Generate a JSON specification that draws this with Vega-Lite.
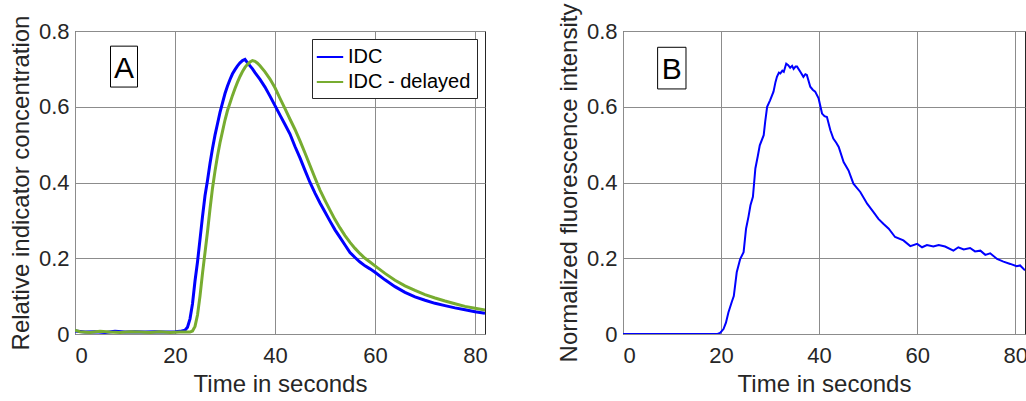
{
  "$schema": "https://vega.github.io/schema/vega-lite/v6.json",
  "padding": {"left": 8, "top": 2, "right": 0, "bottom": 0},
  "background": "white",
  "config": {
    "font": "Liberation Sans",
    "view": {"stroke": "#262626", "strokeWidth": 1},
    "axis": {
      "domain": false, "ticks": false, "grid": true, "gridColor": "#8c8c8c", "gridWidth": 1,
      "labelFont": "Liberation Sans", "labelFontSize": 22, "labelColor": "#262626",
      "titleFont": "Liberation Sans", "titleFontSize": 24, "titleFontWeight": "normal", "titleColor": "#262626"
    },
    "legend": {
      "padding": 6, "rowPadding": 3,
      "strokeColor": "#262626", "fillColor": "white",
      "labelFont": "Liberation Sans", "labelFontSize": 20, "labelColor": "#000000", "labelOffset": 6,
      "symbolType": "M-1.2,0H1.2", "symbolSize": 484, "symbolStrokeWidth": 2
    }
  },
  "resolve": {"legend": {"color": "independent"}, "scale": {"color": "independent"}},
  "datasets": {
    "a": [
      {"t": 0, "v": 0.008, "s": "IDC"}, {"t": 2, "v": 0.005, "s": "IDC"}, {"t": 4, "v": 0.006, "s": "IDC"}, {"t": 6, "v": 0.004, "s": "IDC"},
      {"t": 8, "v": 0.007, "s": "IDC"}, {"t": 10, "v": 0.005, "s": "IDC"}, {"t": 12, "v": 0.006, "s": "IDC"}, {"t": 14, "v": 0.005, "s": "IDC"},
      {"t": 16, "v": 0.006, "s": "IDC"}, {"t": 18, "v": 0.005, "s": "IDC"}, {"t": 20, "v": 0.006, "s": "IDC"}, {"t": 21, "v": 0.007, "s": "IDC"},
      {"t": 22, "v": 0.01, "s": "IDC"}, {"t": 22.5, "v": 0.018, "s": "IDC"}, {"t": 23, "v": 0.04, "s": "IDC"}, {"t": 23.5, "v": 0.08, "s": "IDC"},
      {"t": 24, "v": 0.14, "s": "IDC"}, {"t": 24.5, "v": 0.19, "s": "IDC"}, {"t": 25, "v": 0.25, "s": "IDC"}, {"t": 25.5, "v": 0.31, "s": "IDC"},
      {"t": 26, "v": 0.365, "s": "IDC"}, {"t": 26.5, "v": 0.405, "s": "IDC"}, {"t": 27, "v": 0.45, "s": "IDC"}, {"t": 27.5, "v": 0.49, "s": "IDC"},
      {"t": 28, "v": 0.525, "s": "IDC"}, {"t": 28.5, "v": 0.555, "s": "IDC"}, {"t": 29, "v": 0.585, "s": "IDC"}, {"t": 29.5, "v": 0.61, "s": "IDC"},
      {"t": 30, "v": 0.635, "s": "IDC"}, {"t": 30.5, "v": 0.655, "s": "IDC"}, {"t": 31, "v": 0.672, "s": "IDC"}, {"t": 31.5, "v": 0.687, "s": "IDC"},
      {"t": 32, "v": 0.698, "s": "IDC"}, {"t": 32.5, "v": 0.708, "s": "IDC"}, {"t": 33, "v": 0.716, "s": "IDC"}, {"t": 33.5, "v": 0.722, "s": "IDC"},
      {"t": 34, "v": 0.725, "s": "IDC"}, {"t": 34.5, "v": 0.716, "s": "IDC"}, {"t": 35, "v": 0.708, "s": "IDC"}, {"t": 35.5, "v": 0.7, "s": "IDC"},
      {"t": 36, "v": 0.69, "s": "IDC"}, {"t": 37, "v": 0.672, "s": "IDC"}, {"t": 38, "v": 0.652, "s": "IDC"}, {"t": 39, "v": 0.628, "s": "IDC"},
      {"t": 40, "v": 0.603, "s": "IDC"}, {"t": 41, "v": 0.578, "s": "IDC"}, {"t": 42, "v": 0.553, "s": "IDC"}, {"t": 43, "v": 0.528, "s": "IDC"},
      {"t": 44, "v": 0.495, "s": "IDC"}, {"t": 45, "v": 0.465, "s": "IDC"}, {"t": 46, "v": 0.432, "s": "IDC"}, {"t": 47, "v": 0.4, "s": "IDC"},
      {"t": 48, "v": 0.372, "s": "IDC"}, {"t": 49, "v": 0.346, "s": "IDC"}, {"t": 50, "v": 0.322, "s": "IDC"}, {"t": 51, "v": 0.298, "s": "IDC"},
      {"t": 52, "v": 0.275, "s": "IDC"}, {"t": 53, "v": 0.255, "s": "IDC"}, {"t": 54, "v": 0.235, "s": "IDC"}, {"t": 55, "v": 0.215, "s": "IDC"},
      {"t": 56, "v": 0.202, "s": "IDC"}, {"t": 57, "v": 0.19, "s": "IDC"}, {"t": 58, "v": 0.18, "s": "IDC"}, {"t": 59, "v": 0.172, "s": "IDC"},
      {"t": 60, "v": 0.163, "s": "IDC"}, {"t": 62, "v": 0.143, "s": "IDC"}, {"t": 64, "v": 0.125, "s": "IDC"}, {"t": 66, "v": 0.11, "s": "IDC"},
      {"t": 68, "v": 0.098, "s": "IDC"}, {"t": 70, "v": 0.089, "s": "IDC"}, {"t": 72, "v": 0.081, "s": "IDC"}, {"t": 74, "v": 0.075, "s": "IDC"},
      {"t": 76, "v": 0.069, "s": "IDC"}, {"t": 78, "v": 0.064, "s": "IDC"}, {"t": 80, "v": 0.059, "s": "IDC"}, {"t": 82, "v": 0.055, "s": "IDC"},

      {"t": 0, "v": 0.01, "s": "IDC - delayed"}, {"t": 1, "v": 0.006, "s": "IDC - delayed"}, {"t": 3, "v": 0.004, "s": "IDC - delayed"}, {"t": 5, "v": 0.007, "s": "IDC - delayed"},
      {"t": 7, "v": 0.005, "s": "IDC - delayed"}, {"t": 9, "v": 0.004, "s": "IDC - delayed"}, {"t": 11, "v": 0.006, "s": "IDC - delayed"}, {"t": 13, "v": 0.005, "s": "IDC - delayed"},
      {"t": 15, "v": 0.004, "s": "IDC - delayed"}, {"t": 17, "v": 0.006, "s": "IDC - delayed"}, {"t": 19, "v": 0.004, "s": "IDC - delayed"}, {"t": 21, "v": 0.005, "s": "IDC - delayed"},
      {"t": 23, "v": 0.005, "s": "IDC - delayed"}, {"t": 23.5, "v": 0.008, "s": "IDC - delayed"}, {"t": 24, "v": 0.02, "s": "IDC - delayed"}, {"t": 24.5, "v": 0.05, "s": "IDC - delayed"},
      {"t": 25, "v": 0.1, "s": "IDC - delayed"}, {"t": 25.5, "v": 0.16, "s": "IDC - delayed"}, {"t": 26, "v": 0.215, "s": "IDC - delayed"}, {"t": 26.5, "v": 0.27, "s": "IDC - delayed"},
      {"t": 27, "v": 0.33, "s": "IDC - delayed"}, {"t": 27.5, "v": 0.385, "s": "IDC - delayed"}, {"t": 28, "v": 0.43, "s": "IDC - delayed"}, {"t": 28.5, "v": 0.47, "s": "IDC - delayed"},
      {"t": 29, "v": 0.505, "s": "IDC - delayed"}, {"t": 29.5, "v": 0.535, "s": "IDC - delayed"}, {"t": 30, "v": 0.565, "s": "IDC - delayed"}, {"t": 30.5, "v": 0.59, "s": "IDC - delayed"},
      {"t": 31, "v": 0.61, "s": "IDC - delayed"}, {"t": 31.5, "v": 0.63, "s": "IDC - delayed"}, {"t": 32, "v": 0.648, "s": "IDC - delayed"}, {"t": 32.5, "v": 0.665, "s": "IDC - delayed"},
      {"t": 33, "v": 0.68, "s": "IDC - delayed"}, {"t": 33.5, "v": 0.693, "s": "IDC - delayed"}, {"t": 34, "v": 0.704, "s": "IDC - delayed"}, {"t": 34.5, "v": 0.712, "s": "IDC - delayed"},
      {"t": 35, "v": 0.718, "s": "IDC - delayed"}, {"t": 35.5, "v": 0.722, "s": "IDC - delayed"}, {"t": 36, "v": 0.72, "s": "IDC - delayed"}, {"t": 36.5, "v": 0.715, "s": "IDC - delayed"},
      {"t": 37, "v": 0.708, "s": "IDC - delayed"}, {"t": 38, "v": 0.692, "s": "IDC - delayed"}, {"t": 39, "v": 0.673, "s": "IDC - delayed"}, {"t": 40, "v": 0.65, "s": "IDC - delayed"},
      {"t": 41, "v": 0.622, "s": "IDC - delayed"}, {"t": 42, "v": 0.595, "s": "IDC - delayed"}, {"t": 43, "v": 0.567, "s": "IDC - delayed"}, {"t": 44, "v": 0.54, "s": "IDC - delayed"},
      {"t": 45, "v": 0.51, "s": "IDC - delayed"}, {"t": 46, "v": 0.478, "s": "IDC - delayed"}, {"t": 47, "v": 0.445, "s": "IDC - delayed"}, {"t": 48, "v": 0.412, "s": "IDC - delayed"},
      {"t": 49, "v": 0.38, "s": "IDC - delayed"}, {"t": 50, "v": 0.353, "s": "IDC - delayed"}, {"t": 51, "v": 0.327, "s": "IDC - delayed"}, {"t": 52, "v": 0.302, "s": "IDC - delayed"},
      {"t": 53, "v": 0.28, "s": "IDC - delayed"}, {"t": 54, "v": 0.26, "s": "IDC - delayed"}, {"t": 55, "v": 0.242, "s": "IDC - delayed"}, {"t": 56, "v": 0.226, "s": "IDC - delayed"},
      {"t": 57, "v": 0.212, "s": "IDC - delayed"}, {"t": 58, "v": 0.2, "s": "IDC - delayed"}, {"t": 59, "v": 0.19, "s": "IDC - delayed"}, {"t": 60, "v": 0.18, "s": "IDC - delayed"},
      {"t": 62, "v": 0.16, "s": "IDC - delayed"}, {"t": 64, "v": 0.142, "s": "IDC - delayed"}, {"t": 66, "v": 0.127, "s": "IDC - delayed"}, {"t": 68, "v": 0.115, "s": "IDC - delayed"},
      {"t": 70, "v": 0.104, "s": "IDC - delayed"}, {"t": 72, "v": 0.095, "s": "IDC - delayed"}, {"t": 74, "v": 0.087, "s": "IDC - delayed"}, {"t": 76, "v": 0.08, "s": "IDC - delayed"},
      {"t": 78, "v": 0.073, "s": "IDC - delayed"}, {"t": 80, "v": 0.068, "s": "IDC - delayed"}, {"t": 82, "v": 0.063, "s": "IDC - delayed"}
    ],
    "b": [
      {"t": 0, "v": 0}, {"t": 19.3, "v": 0}, {"t": 19.8, "v": 0.003}, {"t": 20.5, "v": 0.013}, {"t": 21, "v": 0.03},
      {"t": 21.5, "v": 0.057}, {"t": 22.2, "v": 0.085}, {"t": 22.6, "v": 0.1}, {"t": 23.2, "v": 0.163}, {"t": 23.9, "v": 0.198},
      {"t": 24.6, "v": 0.216}, {"t": 25.1, "v": 0.278}, {"t": 25.6, "v": 0.31}, {"t": 26.0, "v": 0.34}, {"t": 26.5, "v": 0.362},
      {"t": 27.0, "v": 0.437}, {"t": 27.5, "v": 0.47}, {"t": 27.9, "v": 0.498}, {"t": 28.7, "v": 0.525}, {"t": 29.0, "v": 0.56},
      {"t": 29.4, "v": 0.6}, {"t": 30.0, "v": 0.617}, {"t": 30.7, "v": 0.64}, {"t": 31.1, "v": 0.665}, {"t": 31.4, "v": 0.679},
      {"t": 31.8, "v": 0.69}, {"t": 32.1, "v": 0.688}, {"t": 32.5, "v": 0.695}, {"t": 32.8, "v": 0.692}, {"t": 33.3, "v": 0.714},
      {"t": 33.7, "v": 0.71}, {"t": 34.1, "v": 0.703}, {"t": 34.5, "v": 0.708}, {"t": 34.8, "v": 0.7}, {"t": 35.2, "v": 0.706},
      {"t": 35.5, "v": 0.706}, {"t": 36.2, "v": 0.692}, {"t": 36.8, "v": 0.679}, {"t": 37.2, "v": 0.686}, {"t": 37.5, "v": 0.684},
      {"t": 38.2, "v": 0.653}, {"t": 38.7, "v": 0.645}, {"t": 39.2, "v": 0.64}, {"t": 39.9, "v": 0.622}, {"t": 40.6, "v": 0.582},
      {"t": 41.1, "v": 0.575}, {"t": 41.6, "v": 0.573}, {"t": 42.3, "v": 0.538}, {"t": 42.9, "v": 0.516}, {"t": 43.5, "v": 0.505},
      {"t": 44.0, "v": 0.494}, {"t": 45.0, "v": 0.454}, {"t": 46.0, "v": 0.432}, {"t": 47.0, "v": 0.397}, {"t": 48.4, "v": 0.375},
      {"t": 49.8, "v": 0.344}, {"t": 51.1, "v": 0.322}, {"t": 52.1, "v": 0.304}, {"t": 53.1, "v": 0.291}, {"t": 54.2, "v": 0.278},
      {"t": 55.5, "v": 0.256}, {"t": 57.2, "v": 0.247}, {"t": 58.6, "v": 0.232}, {"t": 60.0, "v": 0.238}, {"t": 61.0, "v": 0.229},
      {"t": 62.0, "v": 0.235}, {"t": 63.3, "v": 0.231}, {"t": 64.4, "v": 0.235}, {"t": 65.7, "v": 0.231}, {"t": 67.4, "v": 0.22},
      {"t": 68.4, "v": 0.229}, {"t": 69.5, "v": 0.223}, {"t": 70.8, "v": 0.227}, {"t": 71.8, "v": 0.218}, {"t": 72.9, "v": 0.22},
      {"t": 73.9, "v": 0.209}, {"t": 74.9, "v": 0.213}, {"t": 76.3, "v": 0.198}, {"t": 77.6, "v": 0.191}, {"t": 79.0, "v": 0.185},
      {"t": 80.3, "v": 0.179}, {"t": 81.0, "v": 0.181}, {"t": 82.0, "v": 0.168}
    ]
  },
  "spacing": 68,
  "hconcat": [
    {
      "width": 410,
      "height": 303,
      "layer": [
        {
          "data": {"name": "a"},
          "mark": {"type": "line", "strokeWidth": 3, "clip": true},
          "encoding": {
            "x": {"field": "t", "type": "quantitative", "scale": {"domain": [0, 82], "nice": false},
                  "axis": {"values": [0, 20, 40, 60, 80], "title": "Time in seconds", "labelPadding": 11, "titlePadding": 6}},
            "y": {"field": "v", "type": "quantitative", "scale": {"domain": [0, 0.8], "nice": false},
                  "axis": {"values": [0, 0.2, 0.4, 0.6, 0.8], "format": ".1~f", "title": "Relative indicator concentration", "labelPadding": 6, "titlePadding": 5}},
            "color": {"field": "s", "type": "nominal", "scale": {"domain": ["IDC", "IDC - delayed"], "range": ["#0000ff", "#77ac30"]},
                      "legend": {"orient": "top-right", "offset": 8, "title": null}},
            "order": {"field": "t", "type": "quantitative"}
          }
        },
        {
          "data": {"values": [{}]},
          "mark": {"type": "rect", "fill": "white", "stroke": "#000000", "strokeWidth": 1},
          "encoding": {
            "x": {"datum": 7.1, "type": "quantitative"}, "x2": {"datum": 12.5},
            "y": {"datum": 0.652, "type": "quantitative"}, "y2": {"datum": 0.76}
          }
        },
        {
          "data": {"values": [{}]},
          "mark": {"type": "text", "text": "A", "font": "Liberation Sans", "fontSize": 30, "align": "center", "baseline": "alphabetic", "color": "#000000"},
          "encoding": {
            "x": {"datum": 9.8, "type": "quantitative"},
            "y": {"datum": 0.675, "type": "quantitative"}
          }
        }
      ]
    },
    {
      "width": 402,
      "height": 303,
      "layer": [
        {
          "data": {"name": "b"},
          "mark": {"type": "line", "strokeWidth": 2, "color": "#0000ff", "clip": true},
          "encoding": {
            "x": {"field": "t", "type": "quantitative", "scale": {"domain": [0, 82], "nice": false},
                  "axis": {"values": [0, 20, 40, 60, 80], "title": "Time in seconds", "labelPadding": 11, "titlePadding": 6}},
            "y": {"field": "v", "type": "quantitative", "scale": {"domain": [0, 0.8], "nice": false},
                  "axis": {"values": [0, 0.2, 0.4, 0.6, 0.8], "format": ".1~f", "title": "Normalized fluorescence intensity", "labelPadding": 6, "titlePadding": 5}},
            "order": {"field": "t", "type": "quantitative"}
          }
        },
        {
          "data": {"values": [{}]},
          "mark": {"type": "rect", "fill": "white", "stroke": "#000000", "strokeWidth": 1},
          "encoding": {
            "x": {"datum": 7.06, "type": "quantitative"}, "x2": {"datum": 12.85},
            "y": {"datum": 0.647, "type": "quantitative"}, "y2": {"datum": 0.757}
          }
        },
        {
          "data": {"values": [{}]},
          "mark": {"type": "text", "text": "B", "font": "Liberation Sans", "fontSize": 30, "align": "center", "baseline": "alphabetic", "color": "#000000"},
          "encoding": {
            "x": {"datum": 9.95, "type": "quantitative"},
            "y": {"datum": 0.672, "type": "quantitative"}
          }
        }
      ]
    }
  ]
}
